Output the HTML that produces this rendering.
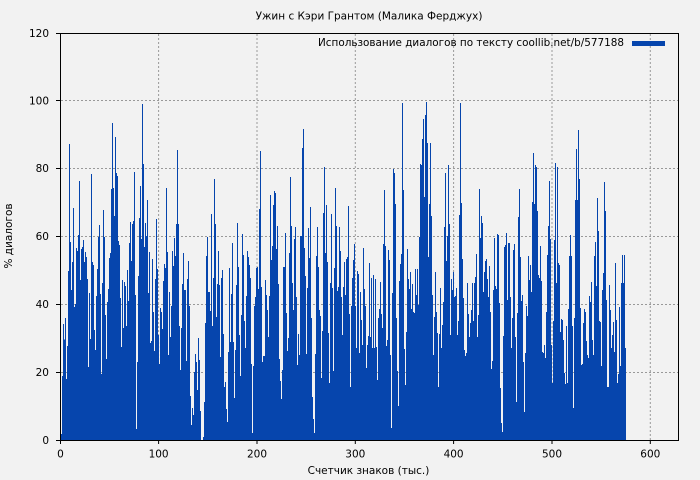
<!DOCTYPE html>
<html><head><meta charset="utf-8"><style>
html,body{margin:0;padding:0;background:#f2f2f2;}
svg{display:block;}
text{font-family:"DejaVu Sans","Liberation Sans",sans-serif;font-size:10.5px;fill:#000;}
</style></head><body>
<svg width="700" height="480" viewBox="0 0 700 480" xmlns="http://www.w3.org/2000/svg">
<rect x="0" y="0" width="700" height="480" fill="#f2f2f2"/>
<g stroke="#999" stroke-width="1" stroke-dasharray="2,2" fill="none">
<path d="M158.6 34V440M257 34V440M355.3 34V440M453.6 34V440M552 34V440M650.3 34V440"/>
<path d="M61 372.5H678M61 304.5H678M61 236.5H678M61 168.5H678M61 100.5H678"/>
</g>
<g transform="translate(60,80) scale(0.33333,0.33333)">
<path fill="#0645ad" shape-rendering="crispEdges" d="M0 1080 V1062 H6 V888 H9 V732 H12 V778 H15 V714 H18 V897 H21 V798 H24 V573 H27 V192 H30 V486 H33 V630 H36 V546 H39 V384 H42 V681 H45 V672 H48 V504 H51 V513 H54 V465 H57 V303 H60 V600 H63 V507 H66 V501 H69 V480 H72 V546 H75 V516 H78 V531 H81 V597 H84 V861 H87 V639 H90 V777 H93 V282 H96 V546 H99 V555 H102 V750 H105 V810 H108 V648 H111 V567 H114 V471 H117 V435 H120 V642 H123 V882 H126 V609 H129 V390 H132 V471 H135 V705 H138 V837 H141 V666 H144 V627 H147 V534 H150 V519 H153 V327 H156 V129 H159 V324 H162 V408 H165 V171 H168 V279 H171 V288 H174 V483 H177 V495 H180 V654 H183 V801 H186 V600 H189 V744 H192 V606 H195 V618 H198 V738 H201 V570 H204 V663 H207 V489 H210 V426 H213 V543 H216 V432 H219 V423 H222 V276 H225 V645 H228 V1047 H231 V846 H234 V588 H237 V414 H240 V318 H243 V477 H246 V72 H249 V252 H252 V501 H255 V429 H258 V468 H261 V360 H264 V639 H267 V516 H270 V789 H273 V783 H276 V537 H279 V696 H282 V813 H285 V597 H288 V417 H291 V567 H294 V765 H297 V852 H300 V684 H303 V696 H306 V747 H309 V603 H312 V552 H315 V564 H318 V324 H321 V516 H324 V825 H327 V636 H330 V771 H333 V678 H336 V513 H339 V558 H342 V474 H345 V528 H348 V432 H351 V210 H354 V432 H357 V738 H360 V870 H363 V744 H366 V612 H369 V519 H372 V630 H375 V630 H378 V843 H381 V597 H384 V543 H387 V678 H390 V948 H393 V1035 H396 V984 H399 V1005 H402 V876 H405 V822 H408 V846 H411 V930 H414 V774 H417 V840 H420 V993 H423 V1080 H429 V1071 H432 V966 H435 V729 H438 V528 H441 V471 H444 V636 H450 V693 H453 V402 H456 V738 H459 V594 H462 V297 H465 V432 H468 V711 H471 V612 H474 V513 H477 V615 H480 V831 H483 V594 H486 V570 H489 V762 H492 V921 H495 V906 H498 V987 H501 V1026 H504 V816 H507 V564 H510 V786 H513 V642 H516 V489 H519 V786 H522 V954 H525 V810 H528 V615 H531 V429 H534 V561 H537 V765 H540 V888 H543 V705 H546 V462 H549 V525 H552 V723 H555 V804 H558 V648 H561 V513 H564 V531 H567 V555 H570 V594 H573 V852 H576 V1059 H579 V858 H582 V678 H585 V651 H588 V564 H591 V561 H594 V627 H597 V387 H600 V213 H603 V621 H606 V846 H609 V828 H615 V600 H618 V645 H621 V690 H624 V771 H627 V648 H630 V345 H633 V540 H636 V498 H639 V375 H642 V333 H645 V339 H648 V507 H651 V438 H654 V612 H657 V837 H660 V903 H663 V957 H666 V870 H669 V561 H675 V459 H678 V699 H681 V813 H684 V774 H687 V519 H690 V291 H693 V438 H696 V609 H699 V690 H702 V477 H705 V441 H708 V651 H711 V855 H714 V762 H717 V825 H720 V468 H726 V204 H729 V147 H732 V504 H735 V588 H738 V822 H741 V624 H744 V444 H747 V534 H750 V381 H753 V714 H756 V951 H759 V1017 H762 V1059 H765 V822 H768 V528 H771 V441 H774 V561 H777 V690 H780 V708 H783 V894 H786 V753 H789 V399 H792 V261 H795 V519 H798 V375 H801 V546 H804 V759 H807 V909 H810 V609 H813 V402 H816 V624 H819 V873 H822 V564 H825 V324 H828 V438 H831 V633 H834 V621 H837 V441 H840 V513 H843 V651 H846 V765 H849 V621 H852 V546 H855 V645 H858 V537 H861 V531 H864 V378 H867 V702 H870 V921 H873 V678 H876 V594 H879 V540 H882 V492 H885 V678 H888 V804 H891 V573 H894 V582 H897 V819 H900 V636 H903 V720 H906 V795 H909 V504 H912 V627 H915 V678 H918 V864 H921 V795 H924 V768 H927 V549 H930 V771 H933 V594 H936 V804 H939 V585 H942 V804 H945 V597 H948 V801 H951 V900 H954 V714 H957 V687 H960 V606 H963 V702 H966 V744 H969 V492 H972 V330 H975 V498 H978 V798 H981 V780 H984 V510 H987 V540 H990 V825 H993 V1044 H996 V639 H999 V267 H1002 V279 H1005 V372 H1008 V714 H1011 V873 H1014 V978 H1017 V603 H1020 V552 H1023 V522 H1026 V69 H1029 V330 H1032 V807 H1035 V915 H1038 V756 H1041 V507 H1044 V597 H1047 V627 H1050 V576 H1053 V687 H1056 V612 H1059 V696 H1062 V699 H1065 V567 H1068 V645 H1071 V567 H1074 V675 H1077 V471 H1080 V252 H1083 V255 H1086 V177 H1089 V117 H1092 V351 H1095 V105 H1098 V66 H1101 V189 H1104 V531 H1107 V372 H1110 V189 H1113 V408 H1116 V645 H1119 V825 H1122 V711 H1125 V576 H1128 V696 H1131 V759 H1134 V921 H1137 V762 H1140 V624 H1143 V804 H1146 V735 H1149 V666 H1152 V441 H1155 V279 H1158 V543 H1161 V468 H1164 V255 H1167 V432 H1170 V765 H1173 V597 H1176 V630 H1179 V576 H1182 V651 H1185 V648 H1188 V624 H1191 V765 H1194 V723 H1197 V405 H1200 V69 H1203 V369 H1206 V537 H1209 V654 H1212 V810 H1215 V828 H1218 V819 H1221 V609 H1224 V702 H1227 V771 H1230 V729 H1233 V690 H1236 V609 H1239 V723 H1242 V609 H1245 V591 H1248 V522 H1251 V771 H1254 V705 H1257 V327 H1260 V474 H1263 V408 H1266 V429 H1269 V636 H1272 V576 H1275 V543 H1278 V537 H1281 V597 H1284 V651 H1287 V558 H1290 V696 H1293 V867 H1296 V843 H1299 V630 H1302 V474 H1305 V618 H1308 V627 H1311 V462 H1314 V465 H1317 V669 H1320 V924 H1323 V1029 H1326 V1056 H1329 V768 H1332 V501 H1335 V495 H1338 V459 H1341 V660 H1344 V489 H1350 V651 H1353 V804 H1356 V714 H1359 V510 H1362 V492 H1365 V771 H1368 V966 H1371 V699 H1374 V411 H1377 V327 H1380 V531 H1383 V663 H1386 V645 H1389 V846 H1392 V996 H1395 V819 H1398 V678 H1401 V708 H1404 V528 H1407 V600 H1410 V555 H1413 V636 H1416 V366 H1419 V219 H1422 V372 H1425 V255 H1428 V261 H1431 V393 H1434 V585 H1437 V594 H1440 V498 H1443 V603 H1446 V816 H1449 V819 H1452 V795 H1455 V834 H1458 V696 H1461 V525 H1464 V438 H1467 V303 H1470 V477 H1473 V795 H1476 V909 H1479 V723 H1482 V480 H1485 V249 H1488 V609 H1491 V261 H1494 V549 H1497 V555 H1500 V756 H1503 V717 H1506 V720 H1509 V780 H1512 V879 H1515 V912 H1518 V738 H1521 V909 H1524 V687 H1527 V528 H1530 V465 H1533 V528 H1536 V738 H1539 V984 H1542 V714 H1545 V360 H1548 V207 H1551 V360 H1554 V150 H1557 V297 H1560 V684 H1563 V855 H1566 V852 H1569 V729 H1572 V687 H1575 V696 H1578 V783 H1581 V825 H1584 V834 H1587 V648 H1590 V666 H1593 V606 H1596 V780 H1599 V825 H1602 V528 H1605 V486 H1608 V618 H1611 V354 H1614 V453 H1617 V723 H1620 V726 H1623 V858 H1626 V630 H1629 V579 H1632 V306 H1635 V393 H1638 V660 H1641 V921 H1647 V615 H1650 V690 H1653 V804 H1656 V765 H1659 V726 H1662 V816 H1665 V549 H1668 V720 H1671 V909 H1674 V882 H1677 V681 H1680 V858 H1683 V609 H1686 V525 H1689 V609 H1692 V525 H1695 V804 H1698 V1080 Z"/>
</g>
<rect x="60.5" y="33.5" width="618" height="407" fill="none" stroke="#000" stroke-width="1"/>
<g stroke="#000" stroke-width="1">
<path d="M60.5 440V444M158.6 440V444M257 440V444M355.3 440V444M453.6 440V444M552 440V444M650.3 440V444"/>
<path d="M56 440.5H60M56 372.5H60M56 304.5H60M56 236.5H60M56 168.5H60M56 100.5H60M56 33.5H60"/>
</g>
<g text-anchor="end">
<text x="49" y="444">0</text>
<text x="49" y="376">20</text>
<text x="49" y="308">40</text>
<text x="49" y="240">60</text>
<text x="49" y="172">80</text>
<text x="49" y="104.5">100</text>
<text x="49" y="37">120</text>
</g>
<g text-anchor="middle">
<text x="60.5" y="457.5">0</text>
<text x="158.6" y="457.5">100</text>
<text x="257" y="457.5">200</text>
<text x="355.3" y="457.5">300</text>
<text x="453.6" y="457.5">400</text>
<text x="552" y="457.5">500</text>
<text x="650.3" y="457.5">600</text>
<text x="369" y="19.5">Ужин с Кэри Грантом (Малика Ферджух)</text>
<text x="368.5" y="474">Счетчик знаков (тыс.)</text>
<text transform="translate(12,236) rotate(-90)" x="0" y="0">% диалогов</text>
</g>
<rect x="632" y="41" width="33" height="5" fill="#0645ad"/>
<text x="318" y="46" textLength="306" lengthAdjust="spacingAndGlyphs">Использование диалогов по тексту coollib.net/b/577188</text>
</svg>
</body></html>
